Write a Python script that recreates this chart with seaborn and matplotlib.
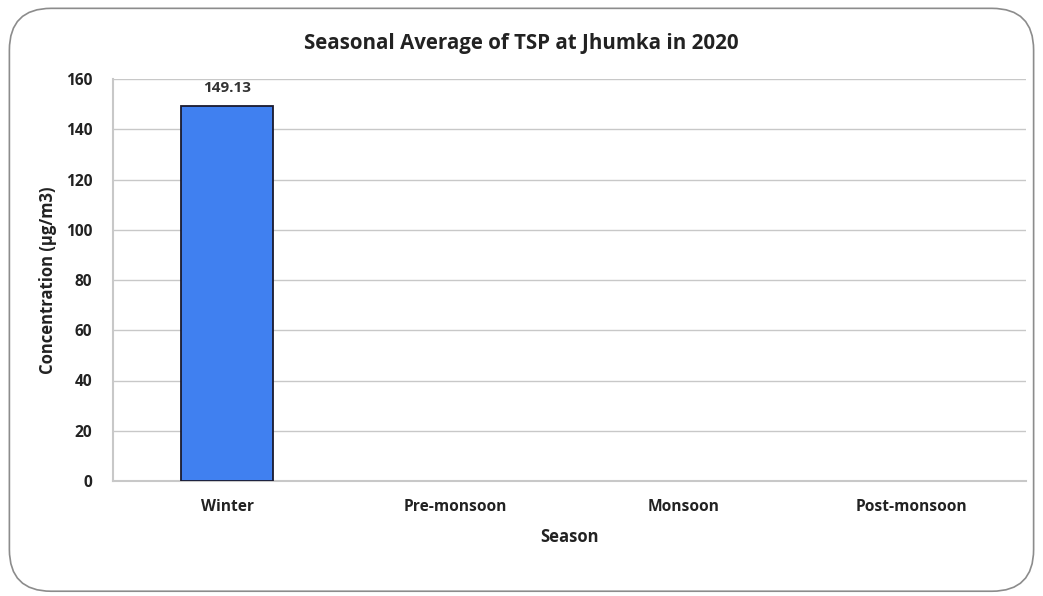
import matplotlib
matplotlib.use("Agg")
import matplotlib.pyplot as plt
import seaborn as sns
import pandas as pd
from matplotlib.patches import FancyBboxPatch

seasons = ["Winter", "Pre-monsoon", "Monsoon", "Post-monsoon"]
tsp = [149.13, None, None, None]
y_ticks = [0, 20, 40, 60, 80, 100, 120, 140, 160]

df = pd.DataFrame({"Season": seasons, "TSP": tsp})

sns.set_theme(style="white")
plt.rcParams["font.family"] = ["Open Sans", "DejaVu Sans"]
plt.rcParams["font.weight"] = "bold"

fig = plt.figure(figsize=(10.43, 5.96), dpi=100)
# rounded chart border, kept behind the axes
border = FancyBboxPatch((0.009, 0.008), 0.982, 0.978, boxstyle="round,pad=0,rounding_size=0.04",
                        transform=fig.transFigure, facecolor="none", edgecolor="#8c8c8c", linewidth=1.2,
                        mutation_aspect=1043 / 596, zorder=-1)
fig.patches.append(border)

ax = fig.add_axes([113 / 1043, 1 - 481 / 596, (1026 - 113) / 1043, (481 - 79) / 596])
ax.set_facecolor("none")
sns.barplot(data=df, x="Season", y="TSP", color="#4080f0", saturation=1, width=0.4,
            edgecolor="#1a1a2e", linewidth=1.3, ax=ax, zorder=3)

for i, v in enumerate(tsp):
    if v is not None:
        ax.annotate(f"{v:.2f}", (i, v), xytext=(0, 8), textcoords="offset points",
                    ha="center", va="bottom", fontsize=11, fontweight="bold", color="#333333")

ax.set_ylim(0, 160)
ax.set_yticks(y_ticks)
ax.yaxis.grid(True, color="#c8c8c8", linewidth=1.0, zorder=0)
ax.set_axisbelow(True)
for s in ["top", "right"]:
    ax.spines[s].set_visible(False)
ax.spines["left"].set_color("#c8c8c8")
ax.spines["bottom"].set_color("#c8c8c8")
ax.spines["left"].set_linewidth(1.5)
ax.spines["bottom"].set_linewidth(1.5)
ax.tick_params(axis="y", length=0, labelsize=11.2, colors="#222222", pad=15)
ax.tick_params(axis="x", length=0, labelsize=11.2, colors="#222222", pad=13)
for lbl in ax.get_xticklabels() + ax.get_yticklabels():
    lbl.set_fontweight("bold")

ax.set_xlabel("Season", fontsize=12, fontweight="bold", color="#222222", labelpad=9)
ax.set_ylabel("Concentration (µg/m3)", fontsize=12, fontweight="bold", color="#222222", labelpad=6)
fig.text(0.5, 1 - 44 / 596, "Seasonal Average of TSP at Jhumka in 2020", ha="center", va="center",
         fontsize=14.8, fontweight="bold", color="#222222")

fig.savefig("out.png", dpi=100)
